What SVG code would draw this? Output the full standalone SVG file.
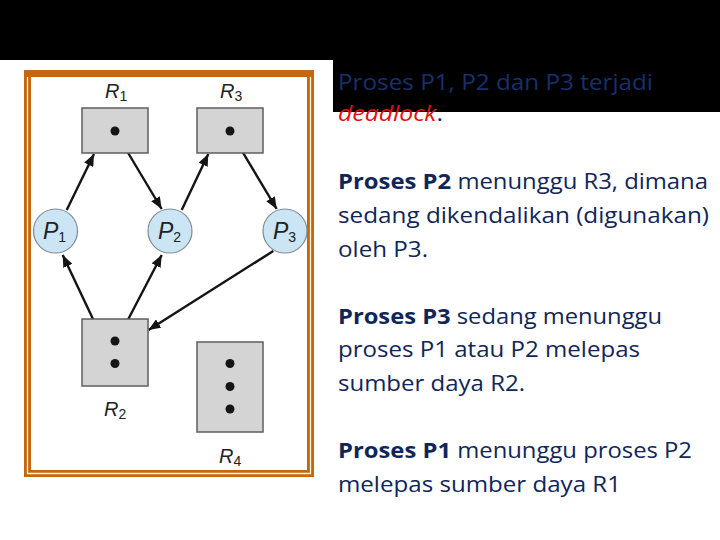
<svg xmlns="http://www.w3.org/2000/svg" width="720" height="540" viewBox="0 0 720 540">
<style>
.box{fill:#d4d4d4;stroke:#5e5e5e;stroke-width:1.5}
.dot{fill:#151515}
.proc{fill:#cbe5f5;stroke:#7f8c96;stroke-width:1.2}
.lbl{font-family:"Liberation Sans",Arial,sans-serif;font-style:italic;font-size:20px;fill:#222}
.plbl{font-size:23px}
.sub{font-size:14px;font-style:normal}
.edge{stroke:#141414;stroke-width:2.4;fill:none;marker-end:url(#ah)}
.txt{font-family:"Open Sans","Noto Sans",sans-serif;font-size:21px;fill:#102558}
.b{font-weight:bold}
</style>
<defs>
<marker id="ah" markerUnits="userSpaceOnUse" markerWidth="13" markerHeight="10" refX="12" refY="5" orient="auto">
<path d="M0,0 L12,5 L0,10 Z" fill="#141414"/>
</marker>
</defs>
<rect x="0" y="0" width="720" height="540" fill="#ffffff"/>
<g id="banner">
<rect x="0" y="0" width="720" height="60" fill="#000000"/>
<rect x="333" y="60" width="387" height="52" fill="#000000"/>
</g>
<g id="frame">
<rect x="24" y="70" width="290" height="407" fill="#c4670f"/>
<path d="M27.5,77 V473.5 H310.5 V77" fill="none" stroke="#fdf3e3" stroke-width="1.3"/>
<rect x="31" y="77" width="276" height="393" fill="#ffffff"/>
</g>
<g id="connectors">
<line class="edge" x1="66.7" y1="210" x2="94" y2="154"/>
<line class="edge" x1="115" y1="131" x2="161.7" y2="209"/>
<line class="edge" x1="181.7" y1="210" x2="208.3" y2="154"/>
<line class="edge" x1="230" y1="131" x2="276.7" y2="209"/>
<line class="edge" x1="110" y1="355" x2="62.7" y2="255"/>
<line class="edge" x1="119" y1="337" x2="161.7" y2="255"/>
<line class="edge" x1="273.3" y1="251" x2="148.5" y2="330"/>
</g>
<g id="R1">
<rect class="box" x="82" y="108" width="66" height="45"/>
<circle class="dot" cx="115" cy="131" r="4.5"/>
<text class="lbl" x="105" y="98">R<tspan class="sub" dy="3">1</tspan></text>
</g>
<g id="R3">
<rect class="box" x="197" y="108" width="66" height="45"/>
<circle class="dot" cx="230" cy="131" r="4.5"/>
<text class="lbl" x="220" y="98">R<tspan class="sub" dy="3">3</tspan></text>
</g>
<g id="P1">
<circle class="proc" cx="55.5" cy="231" r="22"/>
<text class="lbl plbl" x="43" y="239">P<tspan class="sub" dy="3">1</tspan></text>
</g>
<g id="P2">
<circle class="proc" cx="170" cy="231" r="22"/>
<text class="lbl plbl" x="158" y="239">P<tspan class="sub" dy="3">2</tspan></text>
</g>
<g id="P3">
<circle class="proc" cx="285" cy="231" r="22"/>
<text class="lbl plbl" x="273" y="239">P<tspan class="sub" dy="3">3</tspan></text>
</g>
<g id="R2">
<rect class="box" x="82" y="319" width="66" height="67"/>
<circle class="dot" cx="115" cy="341" r="4.5"/>
<circle class="dot" cx="115" cy="363.5" r="4.5"/>
<text class="lbl" x="104" y="416">R<tspan class="sub" dy="3">2</tspan></text>
</g>
<g id="R4">
<rect class="box" x="197" y="342" width="66" height="90"/>
<circle class="dot" cx="230" cy="363.5" r="4.5"/>
<circle class="dot" cx="230" cy="386.5" r="4.5"/>
<circle class="dot" cx="230" cy="409" r="4.5"/>
<text class="lbl" x="219" y="463">R<tspan class="sub" dy="3">4</tspan></text>
</g>
<g id="notes">
<text class="txt" x="338" y="90" textLength="315" lengthAdjust="spacingAndGlyphs" style="fill:#17306e">Proses P1, P2 dan P3 terjadi</text>
<text class="txt" x="338" y="121" textLength="105" lengthAdjust="spacingAndGlyphs"><tspan font-style="italic" style="fill:#e01010">deadlock</tspan>.</text>
<text class="txt" x="338" y="189" textLength="370" lengthAdjust="spacingAndGlyphs"><tspan class="b">Proses P2</tspan> menunggu R3, dimana</text>
<text class="txt" x="338" y="223" textLength="371" lengthAdjust="spacingAndGlyphs">sedang dikendalikan (digunakan)</text>
<text class="txt" x="338" y="257" textLength="90" lengthAdjust="spacingAndGlyphs">oleh P3.</text>
<text class="txt" x="338" y="324" textLength="324" lengthAdjust="spacingAndGlyphs"><tspan class="b">Proses P3</tspan> sedang menunggu</text>
<text class="txt" x="338" y="357" textLength="302" lengthAdjust="spacingAndGlyphs">proses P1 atau P2 melepas</text>
<text class="txt" x="338" y="391" textLength="187" lengthAdjust="spacingAndGlyphs">sumber daya R2.</text>
<text class="txt" x="338" y="458" textLength="354" lengthAdjust="spacingAndGlyphs"><tspan class="b">Proses P1</tspan> menunggu proses P2</text>
<text class="txt" x="338" y="492" textLength="283" lengthAdjust="spacingAndGlyphs">melepas sumber daya R1</text>
</g>
</svg>
